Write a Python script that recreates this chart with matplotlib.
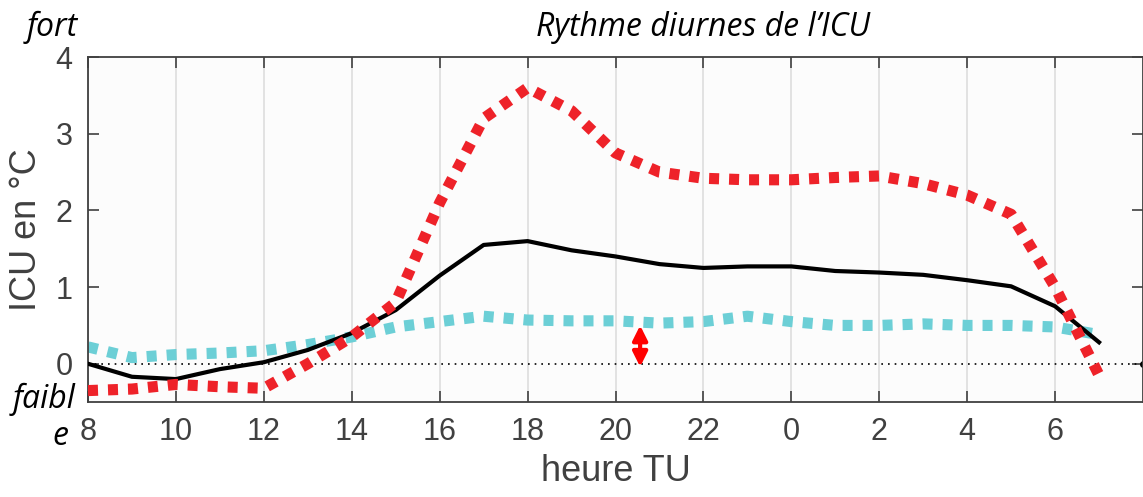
import matplotlib.pyplot as plt
import numpy as np

# heures TU de 8h a 7h le lendemain
heures = np.arange(8, 32)
icu_moyen = [0.0, -0.17, -0.2, -0.07, 0.02, 0.18, 0.4, 0.7, 1.15, 1.55, 1.6, 1.48,
             1.4, 1.3, 1.25, 1.27, 1.27, 1.21, 1.19, 1.16, 1.09, 1.01, 0.75, 0.28]
icu_fort = [-0.35, -0.33, -0.27, -0.3, -0.32, 0.0, 0.35, 0.8, 2.1, 3.2, 3.6, 3.3,
            2.75, 2.5, 2.42, 2.4, 2.4, 2.43, 2.45, 2.35, 2.2, 1.95, 1.0, -0.15]
icu_faible = [0.22, 0.08, 0.12, 0.14, 0.17, 0.25, 0.35, 0.48, 0.55, 0.62, 0.57, 0.56,
              0.56, 0.53, 0.55, 0.62, 0.55, 0.5, 0.5, 0.52, 0.5, 0.5, 0.48, 0.38]
ticks_x = np.arange(8, 31, 2)
labels_x = [str(h % 24) for h in ticks_x]

plt.rcParams['font.family'] = ['Liberation Sans', 'DejaVu Sans']
gris = '#404040'
italique = ['Open Sans', 'DejaVu Sans']

fig = plt.figure(figsize=(11.43, 4.97), dpi=100)
ax = fig.add_axes([0.077, 0.191, 0.923, 0.694])
ax.set_facecolor('#fcfcfc')

ax.axhline(0, color='black', lw=1.2, ls=(0, (1, 3)), zorder=1)
ax.plot([32], [0], 'o', color='black', ms=4, clip_on=False, zorder=1)

ax.plot(heures, icu_faible, color='#6ccfd6', lw=8, ls=(0, (0.9, 0.9)), zorder=2)
ax.plot(heures, icu_moyen, color='black', lw=3, zorder=3)
ax.plot(heures, icu_fort, color='#ee2229', lw=8, ls=(0, (0.9, 0.9)), zorder=4)

ax.annotate('', xy=(20.56, 0.5), xytext=(20.56, -0.04),
            arrowprops=dict(arrowstyle='<|-|>', color='red', lw=3,
                            mutation_scale=22, shrinkA=0, shrinkB=0), zorder=5)

ax.set_xlim(8, 32)
ax.set_ylim(-0.5, 4)
ax.set_xticks(ticks_x)
ax.set_xticklabels(labels_x)
ax.set_yticks([0, 1, 2, 3, 4])
ax.tick_params(direction='in', length=8, width=1.2, color=gris, labelcolor=gris,
               labelsize=22, top=True, right=True, pad=11)
ax.grid(axis='x', color='#dddddd', lw=1.2)
ax.set_axisbelow(True)
for s in ax.spines.values():
    s.set_color(gris)
    s.set_linewidth(1.3)

ax.set_xlabel('heure TU', fontsize=26, color=gris, labelpad=5)
ax.set_ylabel('ICU en °C', fontsize=26, color=gris, labelpad=8)

fig.text(0.615, 0.945, 'Rythme diurnes de l\u2019ICU', fontsize=23, style='italic',
         family=italique, ha='center', va='center')
fig.text(0.046, 0.945, 'fort', fontsize=23, style='italic',
         family=italique, ha='center', va='center')
fig.text(0.039, 0.196, 'faibl', fontsize=23, style='italic',
         family=italique, ha='center', va='center')
fig.text(0.053, 0.122, 'e', fontsize=23, style='italic',
         family=italique, ha='center', va='center')

fig.savefig('out.png', dpi=100)
